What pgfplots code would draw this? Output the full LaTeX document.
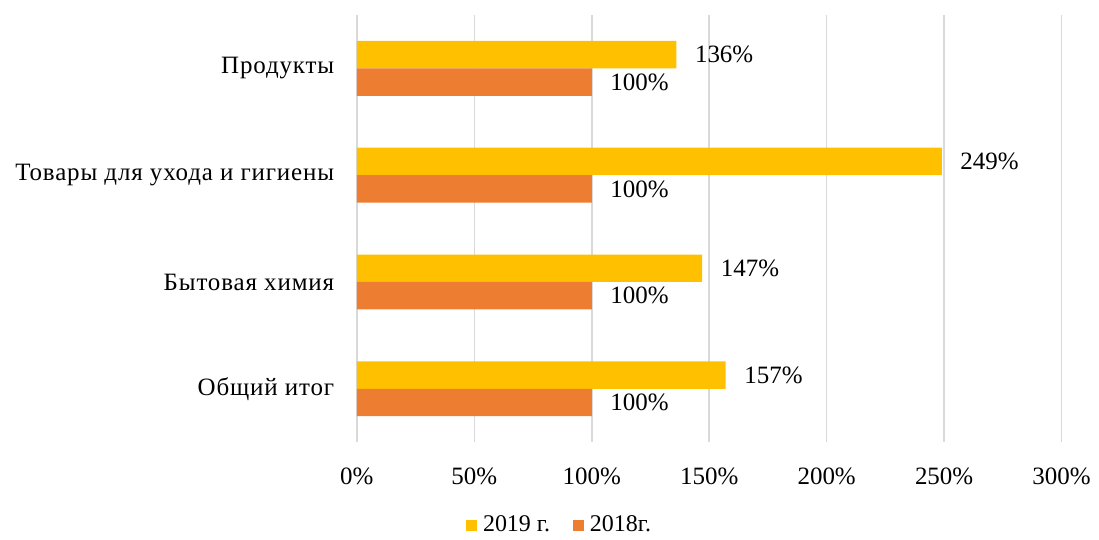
\documentclass[border=0pt]{standalone}
\usepackage{pgfplots}
\pgfplotsset{compat=1.18}
\usepackage{fontspec}
\setmainfont{Liberation Serif}
\newfontfamily\catfont{Liberation Serif}[LetterSpace=3.5]
\definecolor{cyel}{HTML}{FFC000}
\definecolor{corg}{HTML}{ED7D31}
\definecolor{cgrid}{HTML}{D9D9D9}
\begin{document}
\begin{tikzpicture}
\fontsize{12.5}{15}\selectfont
\begin{axis}[
  scale only axis,
  width=353pt, height=214pt,
  xmin=0, xmax=300, ymin=-0.5, ymax=3.5,
  xbar, bar width=13.75pt,
  xtick={0,50,100,150,200,250,300},
  xticklabel={\pgfmathprintnumber{\tick}\%},
  ytick={0,1,2,3},
  yticklabels={Общий итог, Бытовая химия, Товары для ухода и гигиены, Продукты},
  /pgf/number format/assume math mode=true,
  xmajorgrids, grid style={cgrid, line width=0.8pt},
  axis line style={draw=none},
  major tick length=0pt,
  tick style={draw=none},
  xticklabel style={font=\fontsize{12.5}{15}\selectfont, yshift=-8.5pt},
  yticklabel style={font=\catfont\fontsize{12.5}{15}\selectfont, xshift=-7pt},
  clip=false,
  legend style={draw=none, at={(rel axis cs:0.289,-0.196)}, anchor=center,
    legend columns=2, font=\fontsize{12}{14}\selectfont, inner sep=0pt,
    /tikz/every odd column/.append style={column sep=1pt},
    /tikz/every even column/.append style={column sep=9.5pt}},
  legend image code/.code={\fill[#1] (0pt,-2.75pt) rectangle (5.5pt,2.75pt);},
  nodes near coords={\pgfmathprintnumber{\pgfplotspointmeta}\%},
  nodes near coords style={anchor=west, xshift=5pt, font=\fontsize{12.5}{15}\selectfont, text=black},
]
\addplot[fill=cyel, draw=none, bar shift=6.875pt] coordinates {(157,0) (147,1) (249,2) (136,3)};
\addlegendentry{2019 г.}
\addplot[fill=corg, draw=none, bar shift=-6.875pt] coordinates {(100,0) (100,1) (100,2) (100,3)};
\addlegendentry{2018г.}
\path (rel axis cs:-0.5064,1.035) rectangle (rel axis cs:1.0503,-0.222);
\end{axis}
\end{tikzpicture}
\end{document}
